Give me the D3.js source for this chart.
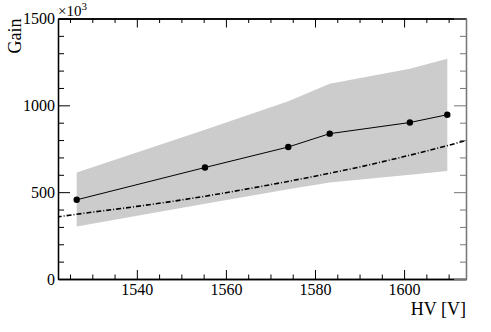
<!DOCTYPE html>
<html lang="en">
<head>
<meta charset="UTF-8">
<title>Gain vs HV</title>
<script src="https://d3js.org/d3.v7.min.js"></script>
<style>
    body { margin: 0; background: white; }
    svg { display: block; }
    svg text { font-family: "Liberation Serif", "Times New Roman", serif; }
</style>
</head>
<body>
<svg id="chart"></svg>
<script>
// measured points
const hv = [1526.5, 1555.3, 1574.0, 1583.3, 1601.3, 1609.7];
const gain = [456, 642, 760, 837, 901, 946];
// grey band (upper / lower edge at each HV point)
const bandHigh = [613, 860, 1023, 1125, 1211, 1268];
const bandLow = [303, 433, 517, 555, 601, 622];
// dash-dotted reference curve
const refHV = [1522, 1530, 1540, 1550, 1560, 1570, 1580, 1590, 1600, 1610, 1614];
const refGain = [357, 385, 418, 455, 497, 543, 592, 645, 705, 770, 798];

const xMajor = [1540, 1560, 1580, 1600];
const yMajor = [0, 500, 1000, 1500];

const width = 491, height = 332;
const mLeft = 58, mRight = 466, mTop = 18.5, mBottom = 279;

const svg = d3.select("#chart").attr("width", width).attr("height", height);

const x = d3.scaleLinear().domain([1522.3, 1613.9]).range([mLeft, mRight]);
const y = d3.scaleLinear().domain([0, 1500]).range([mBottom, mTop]);

svg.append("clipPath").attr("id", "frame")
    .append("rect").attr("x", mLeft).attr("y", mTop)
    .attr("width", mRight - mLeft).attr("height", mBottom - mTop);

// band
const band = hv.map((h, i) => ({ h: h, lo: bandLow[i], hi: bandHigh[i] }));
svg.append("path")
    .datum(band)
    .attr("fill", "#cccccc")
    .attr("d", d3.area().x(d => x(d.h)).y0(d => y(d.lo)).y1(d => y(d.hi)));

// reference curve
const ref = refHV.map((h, i) => ({ h: h, g: refGain[i] }));
svg.append("path")
    .datum(ref)
    .attr("clip-path", "url(#frame)")
    .attr("fill", "none")
    .attr("stroke", "black")
    .attr("stroke-width", 1.6)
    .attr("stroke-dasharray", "5,2,1,2")
    .attr("d", d3.line().curve(d3.curveMonotoneX).x(d => x(d.h)).y(d => y(d.g)));

// data line + markers
const pts = hv.map((h, i) => ({ h: h, g: gain[i] }));
svg.append("path")
    .datum(pts)
    .attr("fill", "none")
    .attr("stroke", "black")
    .attr("stroke-width", 1)
    .attr("d", d3.line().x(d => x(d.h)).y(d => y(d.g)));

svg.selectAll("circle.pt")
    .data(pts)
    .enter().append("circle")
    .attr("class", "pt")
    .attr("cx", d => x(d.h))
    .attr("cy", d => y(d.g))
    .attr("r", 3.2)
    .attr("fill", "black");

// axes
function styleAxis(g, color) {
    g.attr("font-family", null).attr("font-size", null);
    g.select(".domain").attr("stroke", color).attr("stroke-width", 1.3);
    g.selectAll(".tick line").attr("stroke", color).attr("stroke-width", 1);
    g.selectAll("text").attr("fill", "black").style("font-size", "16px");
}

const xMinor = d3.range(1525, 1614, 5).filter(v => !xMajor.includes(v));
const yMinor = d3.range(100, 1500, 100).filter(v => !yMajor.includes(v));

// bottom
svg.append("g").attr("transform", `translate(0,${mBottom})`)
    .call(d3.axisBottom(x).tickValues(xMinor).tickSize(-4.5).tickSizeOuter(0).tickFormat(""))
    .call(g => styleAxis(g, "black"));
svg.append("g").attr("transform", `translate(0,${mBottom})`)
    .call(d3.axisBottom(x).tickValues(xMajor).tickSize(-9).tickSizeOuter(0).tickPadding(4.5).tickFormat(d3.format("d")))
    .call(g => styleAxis(g, "black"));

// top
svg.append("g").attr("transform", `translate(0,${mTop})`)
    .call(d3.axisTop(x).tickValues(xMinor).tickSize(-4.5).tickSizeOuter(0).tickFormat(""))
    .call(g => styleAxis(g, "black"));
svg.append("g").attr("transform", `translate(0,${mTop})`)
    .call(d3.axisTop(x).tickValues(xMajor).tickSize(-9).tickSizeOuter(0).tickFormat(""))
    .call(g => styleAxis(g, "black"));

// left
svg.append("g").attr("transform", `translate(${mLeft},0)`)
    .call(d3.axisLeft(y).tickValues(yMinor).tickSize(-6).tickSizeOuter(0).tickFormat(""))
    .call(g => styleAxis(g, "black"));
svg.append("g").attr("transform", `translate(${mLeft},0)`)
    .call(d3.axisLeft(y).tickValues(yMajor).tickSize(-12).tickSizeOuter(0).tickPadding(3).tickFormat(d3.format("d")))
    .call(g => styleAxis(g, "black"));

// right
svg.append("g").attr("transform", `translate(${mRight},0)`)
    .call(d3.axisRight(y).tickValues(yMinor).tickSize(-6).tickSizeOuter(0).tickFormat(""))
    .call(g => styleAxis(g, "#777"));
svg.append("g").attr("transform", `translate(${mRight},0)`)
    .call(d3.axisRight(y).tickValues(yMajor).tickSize(-12).tickSizeOuter(0).tickFormat(""))
    .call(g => styleAxis(g, "#777"));

// titles
svg.append("text")
    .attr("transform", `translate(21,${mTop}) rotate(-90)`)
    .attr("text-anchor", "end")
    .style("font-size", "18px")
    .text("Gain");

svg.append("text")
    .attr("x", mRight)
    .attr("y", 315)
    .attr("text-anchor", "end")
    .style("font-size", "18px")
    .text("HV [V]");

const exp = svg.append("text")
    .attr("x", mLeft)
    .attr("y", 16)
    .style("font-size", "15px");
exp.append("tspan").text("\u00d710");
exp.append("tspan").attr("dy", -6).style("font-size", "11px").text("3");
</script>
</body>
</html>
